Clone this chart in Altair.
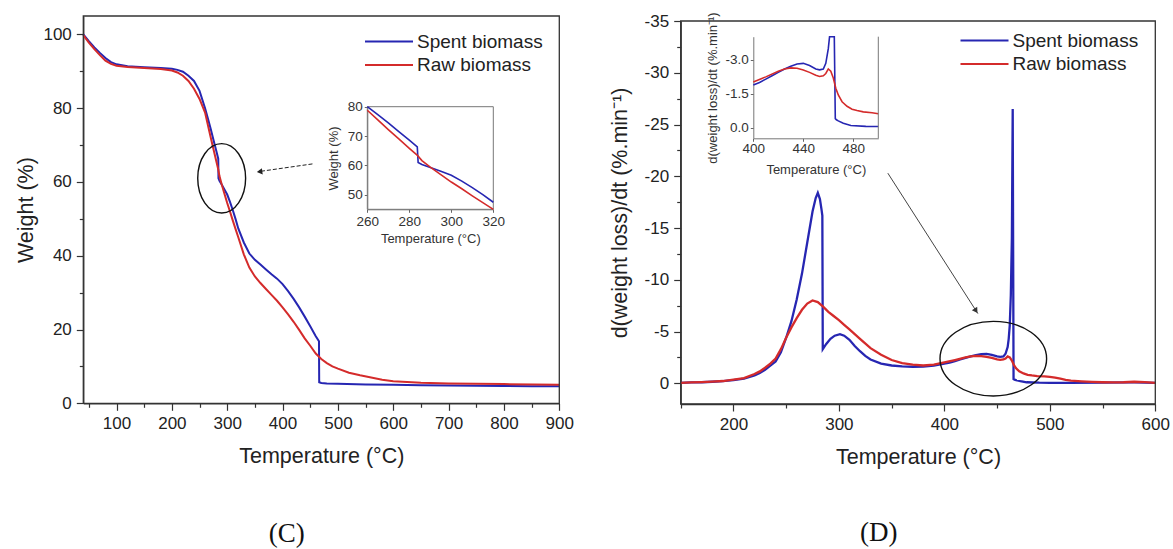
import altair as alt
import pandas as pd

# ---------------- data ----------------
SERIES = ["Spent biomass", "Raw biomass"]
SERIES_COLORS = ["#2626b2", "#d42b2b"]

# (C) TGA curves: temperature (°C) -> weight (%)
tga_spent_T = [40, 50, 60, 70, 80, 90, 100, 120, 150, 180, 200, 210, 220, 230, 240, 250, 260, 265, 270, 275,
               280, 283.8, 284.2, 286, 290, 295, 300, 305, 310, 315, 320, 330, 340, 350, 360, 370, 380, 390, 400, 410,
               420, 430, 440, 450, 460, 465.8, 466.2, 470, 480, 500, 550, 600, 650, 700, 750, 800, 850, 900]
tga_spent_W = [100.0, 98.2, 96.5, 95.0, 93.6, 92.5, 91.9, 91.4, 91.1, 90.9, 90.7, 90.4, 89.9, 88.8, 87.4, 84.7, 80.0, 77.3, 74.5, 71.5,
               68.6, 66.3, 61.0, 60.3, 59.3, 58.0, 56.6, 54.6, 52.4, 50.0, 47.4, 43.6, 40.6, 38.9, 37.6, 36.3, 35.0, 33.8, 32.3, 30.4,
               28.3, 26.0, 23.5, 20.9, 18.2, 16.8, 5.7, 5.5, 5.4, 5.3, 5.1, 5.0, 4.9, 4.8, 4.75, 4.7, 4.65, 4.6]
tga_raw_T = [40, 50, 60, 70, 80, 90, 100, 120, 150, 180, 200, 210, 220, 230, 240, 250, 260, 265, 270, 275,
             280, 284, 286, 290, 295, 300, 305, 310, 315, 320, 330, 340, 350, 360, 370, 380, 390, 400, 410, 420,
             430, 440, 450, 460, 470, 480, 490, 500, 520, 540, 560, 580, 600, 650, 700, 800, 900]
tga_raw_W = [99.8, 97.8, 96.0, 94.4, 92.9, 92.0, 91.5, 91.2, 90.9, 90.6, 90.2, 89.7, 88.8, 87.4, 85.3, 82.5, 78.8, 75.5, 72.2, 69.0,
             65.8, 63.3, 61.6, 59.4, 56.8, 54.3, 52.0, 49.6, 47.3, 45.0, 40.4, 36.8, 34.4, 32.6, 31.0, 29.4, 27.8, 26.0, 24.1, 22.1,
             19.9, 17.6, 15.6, 13.5, 12.0, 10.9, 10.0, 9.4, 8.3, 7.6, 7.0, 6.4, 6.0, 5.6, 5.4, 5.2, 5.0]

# (D) DTG curves: temperature (°C) -> d(weight loss)/dt (%.min-1)
dtg_spent_T = [150, 160, 170, 180, 190, 200, 210, 220, 225, 230, 235, 240, 245, 250, 255, 260, 265, 270, 275, 278,
               280, 282, 283.5, 284.3, 284.7, 288, 292, 296, 301, 305, 310, 315, 320, 325, 330, 340, 350, 360, 370, 380,
               390, 400, 405, 410, 415, 420, 425, 430, 435, 440, 445, 450, 453, 456, 458, 460, 461, 462, 463, 464,
               464.8, 465.6, 466.5, 468, 472, 478, 490, 500, 520, 550, 580, 600]
dtg_spent_D = [-0.05, -0.08, -0.1, -0.15, -0.2, -0.3, -0.45, -0.75, -1.0, -1.3, -1.7, -2.1, -3.0, -4.4, -6.0, -8.1, -10.6, -13.6, -16.6, -17.9,
               -18.4, -17.8, -16.8, -16.2, -3.3, -3.8, -4.3, -4.6, -4.75, -4.6, -4.2, -3.6, -3.1, -2.65, -2.3, -1.9, -1.72, -1.63, -1.6, -1.62,
               -1.72, -1.89, -2.0, -2.15, -2.3, -2.45, -2.6, -2.72, -2.82, -2.85, -2.75, -2.6, -2.56, -2.6, -2.85, -3.5, -4.3, -5.6, -8.5, -14.0,
               -26.5, -0.4, -0.35, -0.3, -0.2, -0.1, -0.06, -0.05, -0.05, -0.06, -0.08, -0.05]
dtg_raw_T = [150, 160, 170, 180, 190, 200, 210, 220, 225, 230, 235, 240, 245, 250, 255, 260, 265, 270, 275, 280,
             285, 290, 295, 300, 305, 310, 315, 320, 330, 340, 350, 360, 370, 380, 390, 400, 410, 420, 425, 430,
             435, 440, 445, 450, 453, 456, 458, 460, 462, 464, 466, 468, 471, 475, 479, 483, 488, 495, 500, 505,
             510, 515, 520, 530, 540, 550, 560, 570, 580, 590, 600]
dtg_raw_D = [-0.05, -0.08, -0.12, -0.16, -0.22, -0.35, -0.5, -0.9, -1.15, -1.5, -1.9, -2.4, -3.3, -4.4, -5.4, -6.3, -7.1, -7.7, -8.0, -7.85,
             -7.4, -6.9, -6.5, -6.1, -5.65, -5.2, -4.75, -4.3, -3.4, -2.75, -2.25, -1.95, -1.8, -1.72, -1.8, -2.02, -2.25, -2.5, -2.6, -2.65,
             -2.63, -2.56, -2.45, -2.32, -2.27, -2.3, -2.4, -2.6, -2.5, -2.2, -1.75, -1.45, -1.15, -0.95, -0.82, -0.76, -0.7, -0.66, -0.62, -0.55,
             -0.45, -0.33, -0.25, -0.18, -0.13, -0.1, -0.08, -0.1, -0.15, -0.12, -0.05]

# tick values
tga_x_ticks = [50, 100, 150, 200, 250, 300, 350, 400, 450, 500, 550, 600, 650, 700, 750, 800, 850, 900]
tga_y_ticks = [0, 10, 20, 30, 40, 50, 60, 70, 80, 90, 100]
tga_in_x_ticks = [260, 280, 300, 320]
tga_in_y_ticks = [50, 60, 70, 80]
dtg_x_ticks = [150, 200, 250, 300, 350, 400, 450, 500, 550, 600]
dtg_y_ticks = [-35, -32.5, -30, -27.5, -25, -22.5, -20, -17.5, -15, -12.5, -10, -7.5, -5, -2.5, 0]
dtg_in_x_ticks = [400, 440, 480]
dtg_in_y_ticks = [-3.0, -1.5, 0.0]

# ---------------- layout helpers ----------------
W_PX, H_PX = 1173, 549
FONT = "Liberation Sans"
INK = "#222222"


def scale(domain, rng, clamp=False):
    return alt.Scale(domain=domain, range=rng, nice=False, zero=False, clamp=clamp)


SX_C = scale([40, 900], [83.3, 559.3])
SY_C = scale([0, 105], [403.3, 16])
SX_CI = scale([260, 320], [367.3, 493.3], True)
SY_CI = scale([45, 80], [209.3, 106.7], True)
SX_D = scale([150, 600], [680.7, 1155.3])
SY_D = scale([-35, 2], [21, 404])
SX_DI = scale([400, 500], [753.3, 878.3], True)
SY_DI = scale([-4.03, 0.47], [36.7, 138.3], True)


def main_axis(orient, offset, values, major, title, label_expr, title_pad):
    return alt.Axis(orient=orient, offset=offset, values=values, grid=False,
                    labelExpr=label_expr, labelFlush=False, labelOverlap=False,
                    labelFont=FONT, labelFontSize=17, labelColor=INK, labelPadding=5,
                    tickSize={"condition": {"test": major, "value": 7}, "value": 4},
                    tickColor="#333333", tickWidth=1.2, domainColor="#333333", domainWidth=1.3,
                    title=title, titleFont=FONT, titleFontSize=21.5, titleFontWeight="normal",
                    titleColor=INK, titlePadding=title_pad)


def inset_axis(orient, offset, values, title, label_expr, title_pad, label_pad):
    return alt.Axis(orient=orient, offset=offset, values=values, grid=False,
                    labelExpr=label_expr, labelFlush=False, labelOverlap=False,
                    labelFont=FONT, labelFontSize=13.5, labelColor="#333333", labelPadding=label_pad,
                    tickSize=3, tickColor="#666666", tickWidth=1, domainColor="#777777", domainWidth=1,
                    title=title, titleFont=FONT, titleFontSize=13, titleFontWeight="normal",
                    titleColor="#333333", titlePadding=title_pad)


def legend(x, y):
    return alt.Legend(orient="none", legendX=x, legendY=y, title=None, symbolType="stroke",
                      symbolSize=2304, symbolStrokeWidth=2, clipHeight=21, rowPadding=2.5,
                      labelFont=FONT, labelFontSize=19, labelColor=INK, labelOffset=3,
                      padding=0, labelLimit=300)


def color(leg):
    return alt.Color("series:N", scale=alt.Scale(domain=SERIES, range=SERIES_COLORS), legend=leg)


def series_df(ta, va, tb, vb):
    return pd.DataFrame({"T": ta + tb, "v": va + vb,
                         "series": [SERIES[0]] * len(ta) + [SERIES[1]] * len(tb)})


tga = series_df(tga_spent_T, tga_spent_W, tga_raw_T, tga_raw_W)
dtg = series_df(dtg_spent_T, dtg_spent_D, dtg_raw_T, dtg_raw_D)
one = pd.DataFrame({"k": [0]})


def qx(v, sc):
    return alt.XDatum(v, type="quantitative", scale=sc, axis=None)


def qy(v, sc):
    return alt.YDatum(v, type="quantitative", scale=sc, axis=None)


MINUS_INT = "(datum.value < 0 ? '-' : '') + format(abs(datum.value), 'd')"
MINUS_1F = "(datum.value < 0 ? '-' : '') + format(abs(datum.value), '.1f')"

layers = []

# ---------- panel (C) ----------
layers.append(
    alt.Chart(tga).mark_line(strokeWidth=2).encode(
        x=alt.X("T:Q", scale=SX_C, axis=main_axis("bottom", -145.7, tga_x_ticks, "datum.value % 100 === 0",
                                                  "Temperature (°C)",
                                                  "datum.value % 100 === 0 ? datum.label : ''", 14)),
        y=alt.Y("v:Q", scale=SY_C, axis=main_axis("left", -83.3, tga_y_ticks, "datum.value % 20 === 0",
                                                 "Weight (%)",
                                                 "datum.value % 20 === 0 ? datum.label : ''", 5)),
        color=color(legend(364, 31)),
    )
)
layers.append(
    alt.Chart(one).mark_rect(filled=False, stroke="#333333", strokeWidth=1.3).encode(
        x=qx(40, SX_C), x2=alt.X2Datum(900), y=qy(0, SY_C), y2=alt.Y2Datum(105))
)
# circled region and arrow
layers.append(
    alt.Chart(one).mark_point(shape="M -0.69 0 A 0.69 1 0 1 1 0.69 0 A 0.69 1 0 1 1 -0.69 0 Z",
                              size=4816, filled=False, stroke="#111111", strokeWidth=1.4, opacity=1).encode(
        x=qx(290, SX_C), y=qy(61, SY_C))
)
layers.append(
    alt.Chart(one).mark_rule(stroke="#222222", strokeWidth=1, strokeDash=[4, 2]).encode(
        x=qx(454, SX_C), x2=alt.X2Datum(356), y=qy(64.9, SY_C), y2=alt.Y2Datum(62.8))
)
layers.append(
    alt.Chart(one).mark_point(shape="triangle-up", filled=True, color="#222222", size=40, angle=262, opacity=1).encode(
        x=qx(358.5, SX_C), y=qy(62.8, SY_C))
)
# inset (C)
layers.append(
    alt.Chart(one).mark_rect(filled=False, stroke="#777777", strokeWidth=1).encode(
        x=qx(260, SX_CI), x2=alt.X2Datum(320), y=qy(45, SY_CI), y2=alt.Y2Datum(80))
)
layers.append(
    alt.Chart(tga).mark_line(strokeWidth=1.6).encode(
        x=alt.X("T:Q", scale=SX_CI, axis=inset_axis("bottom", -339.7, tga_in_x_ticks, "Temperature (°C)",
                                                   "datum.label", 5, 2)),
        y=alt.Y("v:Q", scale=SY_CI, axis=inset_axis("left", -367.3, tga_in_y_ticks, "Weight (%)",
                                                    "datum.label", 7, 2)),
        color=color(None),
    ).transform_filter(alt.FieldRangePredicate(field="T", range=[260, 320]))
)
layers.append(
    alt.Chart(one).mark_text(text="(C)", font="Liberation Serif", fontSize=27, color="#111111",
                             align="center", baseline="middle").encode(
        x=qx(407.5, SX_C), y=qy(-35.35, SY_C))
)

# ---------- panel (D) ----------
layers.append(
    alt.Chart(dtg).mark_line(strokeWidth=2.3).encode(
        x=alt.X("T:Q", scale=SX_D, axis=main_axis("bottom", -145, dtg_x_ticks, "datum.value % 100 === 0",
                                                  "Temperature (°C)",
                                                  "datum.value % 100 === 0 ? datum.label : ''", 14)),
        y=alt.Y("v:Q", scale=SY_D, axis=main_axis("left", -680.7, dtg_y_ticks, "datum.value % 5 === 0",
                                                 "d(weight loss)/dt (%.min\u207b\u00b9)",
                                                 "datum.value % 5 === 0 ? " + MINUS_INT + " : ''", 13)),
        color=color(legend(959.5, 30)),
    )
)
layers.append(
    alt.Chart(one).mark_rect(filled=False, stroke="#333333", strokeWidth=1.3).encode(
        x=qx(150, SX_D), x2=alt.X2Datum(600), y=qy(-35, SY_D), y2=alt.Y2Datum(2))
)
layers.append(
    alt.Chart(one).mark_point(shape="M -1 0 A 1 0.7 0 1 1 1 0 A 1 0.7 0 1 1 -1 0 Z",
                              size=11364, filled=False, stroke="#111111", strokeWidth=1.4, opacity=1).encode(
        x=qx(446.4, SX_D), y=qy(-2.38, SY_D))
)
layers.append(
    alt.Chart(one).mark_rule(stroke="#444444", strokeWidth=1).encode(
        x=qx(346.4, SX_D), x2=alt.X2Datum(431.8), y=qy(-20.3, SY_D), y2=alt.Y2Datum(-6.73))
)
layers.append(
    alt.Chart(one).mark_point(shape="triangle-up", filled=True, color="#333333", size=40, angle=147, opacity=1).encode(
        x=qx(430, SX_D), y=qy(-7.01, SY_D))
)
# inset (D)
layers.append(
    alt.Chart(dtg).mark_line(strokeWidth=1.6).encode(
        x=alt.X("T:Q", scale=SX_DI, axis=inset_axis("bottom", -410.7, dtg_in_x_ticks, "Temperature (°C)",
                                                   "datum.label", 9, 0)),
        y=alt.Y("v:Q", scale=SY_DI, axis=inset_axis("left", -753.3, dtg_in_y_ticks,
                                                    "d(weight loss)/dt (%.min\u207b\u00b9)", MINUS_1F, 6, 2)),
        color=color(None),
    ).transform_filter(alt.FieldRangePredicate(field="T", range=[400, 500]))
)
layers.append(
    alt.Chart(one).mark_rule(stroke="#777777", strokeWidth=1).encode(
        x=qx(500, SX_DI), y=qy(-4.03, SY_DI), y2=alt.Y2Datum(0.47))
)
layers.append(
    alt.Chart(one).mark_text(text="(D)", font="Liberation Serif", fontSize=27, color="#111111",
                             align="center", baseline="middle").encode(
        x=qx(337.7, SX_D), y=qy(14.51, SY_D))
)

chart = alt.layer(*layers).resolve_scale(
    x="independent", y="independent", color="independent"
).properties(
    width=W_PX, height=H_PX, padding=0,
    autosize=alt.AutoSizeParams(type="none"), background="white",
).configure_view(stroke="transparent")

chart.save("out.html", embed_options={"renderer": "svg", "actions": False})
